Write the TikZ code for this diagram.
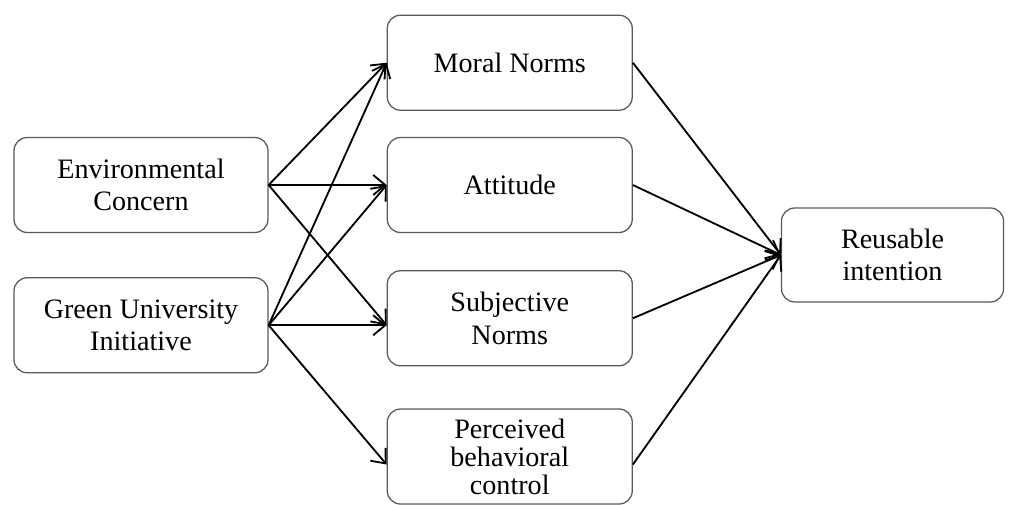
\documentclass[tikz,border=0pt]{standalone}
\usepackage{fontspec}
\setmainfont{Liberation Serif}
\usetikzlibrary{positioning,arrows.meta}

\begin{document}
\begin{tikzpicture}[thick, >={Straight Barb[length=3mm,width=5mm]},
	main/.style={draw=black!65, line width=0.9pt, rounded corners=3.3mm, align=center, inner sep=0pt, minimum height=2.375cm, font=\fontsize{20}{23}\selectfont},
	srcbox/.style={main, minimum width=6.35cm},
	midbox/.style={main, minimum width=6.125cm},
	endbox/.style={main, minimum width=5.55cm, minimum height=2.35cm},
	link/.style={->, line width=1.3pt}]
		\useasboundingbox (0,0) rectangle (25.3,-12.625);
		\node[srcbox] (env) at (3.525,-4.625) {Environmental\\Concern};
		\node[srcbox] (green) [below=1.1cm of env] {Green University\\Initiative};
		\node[midbox] (att) [right=2.95cm of env] {Attitude};
		\node[midbox] (moral) [above=0.65cm of att] {Moral Norms};
		\node[midbox] (subj) [below=0.925cm of att] {Subjective\\Norms};
		\node[midbox, font=\fontsize{20}{20}\selectfont] (pbc) [below=1.05cm of subj] {Perceived\\behavioral\\control};
		\node[endbox] (reuse) [right=3.7cm of att, yshift=-1.75cm] {Reusable\\intention};

		\coordinate (subjin) at (green.east -| subj.west);
		\coordinate (pbcin) at ([yshift=-2mm]pbc.west);

		\draw[link] (env.east) -- (moral.west);
		\draw[link] (env.east) -- (att.west);
		\draw[link] (env.east) -- (subjin);
		\draw[link] (green.east) -- (moral.west);
		\draw[link] (green.east) -- (att.west);
		\draw[link] (green.east) -- (subjin);
		\draw[link] (green.east) -- (pbcin);

		\draw[link] (moral.east) -- (reuse.west);
		\draw[link] (att.east) -- (reuse.west);
		\draw[link] (subj.east) -- (reuse.west);
		\draw[link] ([yshift=-2mm]pbc.east) -- (reuse.west);
	\end{tikzpicture}
\end{document}
